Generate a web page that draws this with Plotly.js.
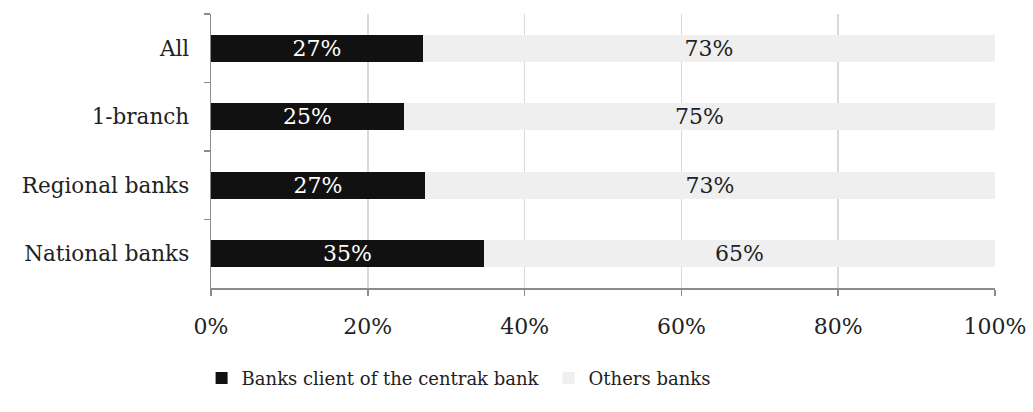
<!DOCTYPE html>
<html><head><meta charset="utf-8">
<script src="https://cdn.plot.ly/plotly-3.0.1.min.js"></script>
<style>body{margin:0;background:#fff}#c{width:1033px;height:412px}</style>
</head><body><div id="c"></div>
<script>
const categories = ["All", "1-branch", "Regional banks", "National banks"];
const clientValues = [27.0, 24.6, 27.3, 34.8];
const otherValues = [73.0, 75.4, 72.7, 65.2];
const clientLabels = ["27%", "25%", "27%", "35%"];
const otherLabels = ["73%", "75%", "73%", "65%"];
const seriesNames = ["Banks client of the centrak bank", "Others banks"];
const xTicks = [0, 20, 40, 60, 80, 100];
const xTickLabels = ["0%", "20%", "40%", "60%", "80%", "100%"];

const font = "DejaVu Serif, Liberation Serif, serif";
const traces = [
  {type:"bar", orientation:"h", y:categories, x:clientValues, name:seriesNames[0],
   text:clientLabels, textposition:"inside", insidetextanchor:"middle", constraintext:"none",
   textfont:{color:"#ffffff", size:22, family:font},
   marker:{color:"#111111", line:{color:"#111111", width:0}}, hoverinfo:"skip"},
  {type:"bar", orientation:"h", y:categories, x:otherValues, name:seriesNames[1],
   text:otherLabels, textposition:"inside", insidetextanchor:"middle", constraintext:"none",
   textfont:{color:"#222222", size:22, family:font},
   marker:{color:"#efefef"}, hoverinfo:"skip"}
];
const layout = {
  barmode:"stack", bargap:0.61,
  width:1033, height:412,
  margin:{l:211, r:38, t:14, b:124},
  paper_bgcolor:"#fff", plot_bgcolor:"#fff",
  font:{family:font, size:20, color:"#222"},
  showlegend:true,
  legend:{orientation:"h", x:-0.012, xanchor:"left", y:-0.33, yanchor:"middle",
          font:{size:18, family:font, color:"#222"}, traceorder:"normal", itemwidth:30,
          entrywidth:302, entrywidthmode:"pixels"},
  xaxis:{range:[0,100], tickvals:xTicks, ticktext:xTickLabels, showgrid:true,
         gridcolor:"#d9d9d9", gridwidth:1.5, showline:true, linecolor:"#8c8c8c", linewidth:1.5,
         ticks:"outside", ticklen:6, tickcolor:"#8c8c8c", tickwidth:1.5, zeroline:false,
         ticklabelstandoff:12,
         tickfont:{size:22, family:font, color:"#222"}, fixedrange:true},
  yaxis:{categoryorder:"array", categoryarray:categories, autorange:"reversed",
         showline:true, linecolor:"#8c8c8c", linewidth:1.5, ticks:"outside", ticklen:6,
         tickcolor:"#8c8c8c", tickwidth:1.5, tickson:"boundaries", showgrid:false,
         ticklabelstandoff:16,
         tickfont:{size:21.5, family:font, color:"#222"}, fixedrange:true}
};
Plotly.newPlot("c", traces, layout, {displayModeBar:false, staticPlot:true});
</script></body></html>
